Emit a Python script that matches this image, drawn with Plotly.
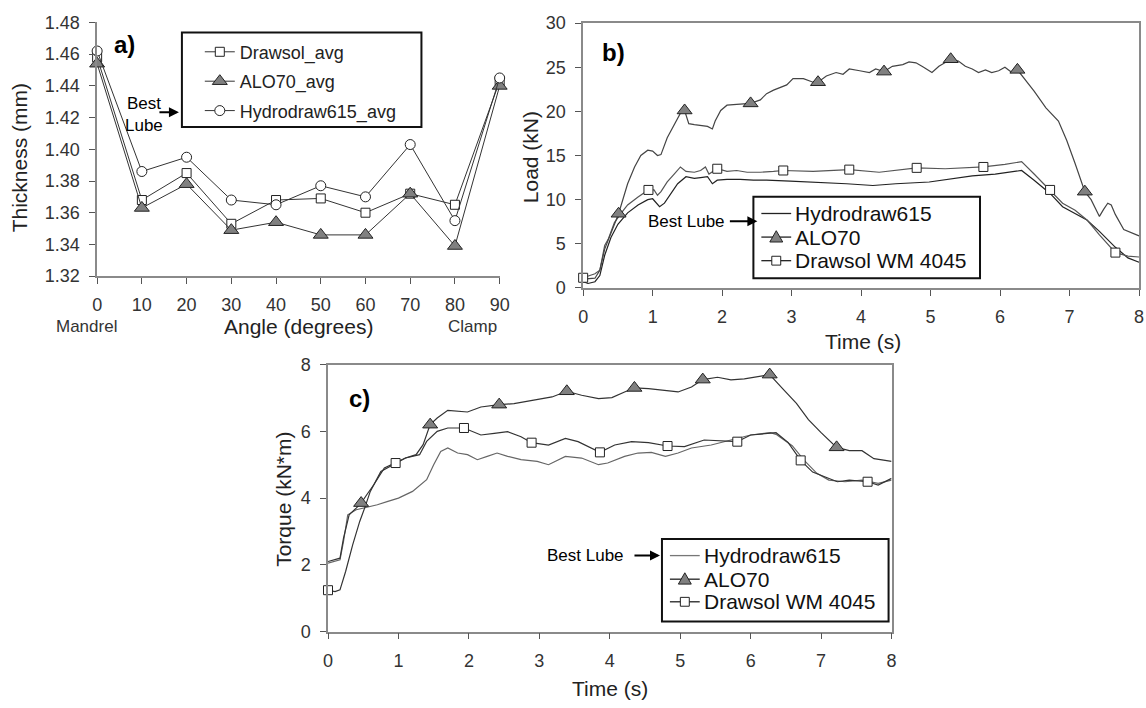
import plotly.graph_objects as go

# ---------------- DATA ----------------
angles = [0, 10, 20, 30, 40, 50, 60, 70, 80, 90]
a_drawsol = [1.458, 1.368, 1.385, 1.353, 1.368, 1.369, 1.360, 1.372, 1.365, 1.443]
a_alo70 = [1.454, 1.363, 1.378, 1.349, 1.354, 1.346, 1.346, 1.372, 1.339, 1.440]
a_hydro = [1.462, 1.386, 1.395, 1.368, 1.365, 1.377, 1.370, 1.403, 1.355, 1.445]
a_xticks = [0, 10, 20, 30, 40, 50, 60, 70, 80, 90]

b_alo_t = [0, 0.17, 0.24, 0.31, 0.51, 0.64, 0.74, 0.83, 0.93, 1.0, 1.07, 1.12, 1.21, 1.31, 1.40, 1.46,
           1.5, 1.52, 1.6, 1.69, 1.79, 1.86, 1.9, 1.98, 2.07, 2.21, 2.36, 2.41, 2.55, 2.64, 2.74, 2.83,
           2.93, 3.02, 3.17, 3.31, 3.38, 3.5, 3.64, 3.74, 3.83, 3.98, 4.12, 4.21, 4.33, 4.45, 4.6, 4.69,
           4.79, 4.9, 5.02, 5.12, 5.21, 5.29, 5.4, 5.5, 5.6, 5.69, 5.79, 5.88, 5.98, 6.07, 6.17, 6.25,
           6.49, 6.66, 6.84, 6.96, 7.08, 7.22, 7.31, 7.43, 7.49, 7.55, 7.6, 7.66, 7.78, 7.9, 8.0]
b_alo_v = [1.0, 1.1, 2.0, 4.4, 8.4, 11.8, 13.7, 15.0, 15.6, 15.5, 15.0, 15.1, 17.0, 18.5, 19.8, 20.1,
           18.9, 18.6, 18.5, 18.4, 18.3, 18.0, 18.9, 20.1, 20.7, 20.8, 20.9, 20.9, 21.3, 22.0, 22.4, 22.7,
           23.0, 23.7, 23.7, 23.3, 23.3, 24.0, 24.4, 24.2, 24.8, 24.6, 24.4, 24.8, 24.5, 25.1, 25.3, 25.6,
           25.5, 25.0, 24.4, 25.1, 25.5, 25.9, 25.7, 25.1, 24.8, 24.4, 24.7, 24.4, 24.6, 25.0, 24.4, 24.7,
           22.3, 20.4, 18.9, 16.7, 14.1, 10.9, 10.0, 8.1, 8.9, 9.6, 9.4, 8.3, 6.6, 6.2, 5.9]
b_alo_mk_t = [0.51, 1.46, 2.41, 3.38, 4.33, 5.29, 6.25, 7.22]
b_alo_mk_v = [8.4, 20.1, 20.9, 23.3, 24.5, 25.9, 24.7, 10.9]

b_draw_t = [0, 0.07, 0.17, 0.24, 0.31, 0.36, 0.45, 0.55, 0.64, 0.79, 0.94, 1.02, 1.07, 1.12, 1.21, 1.31,
            1.4, 1.48, 1.6, 1.69, 1.76, 1.81, 1.93, 2.07, 2.21, 2.36, 2.55, 2.74, 2.88, 3.31, 3.83, 4.26,
            4.5, 4.8, 5.21, 5.76, 6.07, 6.31, 6.49, 6.72, 6.9, 7.08, 7.25, 7.43, 7.66, 7.84, 8.0]
b_draw_v = [1.15, 1.3, 1.6, 2.0, 4.8, 5.5, 7.4, 8.5, 9.4, 10.3, 11.1, 11.1, 10.5, 10.9, 12.0, 12.9,
            13.7, 13.2, 13.1, 13.3, 13.7, 12.9, 13.5, 13.2, 13.3, 13.1, 13.1, 13.2, 13.3, 13.2, 13.4, 13.1,
            13.3, 13.6, 13.5, 13.7, 14.0, 14.3, 12.9, 11.1, 9.6, 8.8, 7.7, 6.0, 4.0, 3.6, 3.5]
b_draw_mk_t = [0, 0.94, 1.93, 2.88, 3.83, 4.8, 5.76, 6.72, 7.66]
b_draw_mk_v = [1.15, 11.1, 13.5, 13.3, 13.4, 13.6, 13.7, 11.1, 4.0]

b_hyd_t = [0, 0.07, 0.17, 0.24, 0.31, 0.4, 0.5, 0.64, 0.79, 0.93, 1.0, 1.1, 1.17, 1.26, 1.36, 1.48,
           1.6, 1.69, 1.79, 1.86, 1.93, 2.07, 2.26, 2.45, 2.64, 2.98, 3.31, 3.79, 4.17, 4.5, 4.98, 5.31,
           5.6, 5.93, 6.31, 6.49, 6.72, 6.9, 7.08, 7.25, 7.43, 7.66, 7.84, 8.0]
b_hyd_v = [0.7, 0.5, 0.7, 1.4, 3.7, 5.7, 7.2, 8.5, 9.4, 10.0, 10.1, 9.2, 9.6, 10.7, 11.8, 12.6,
           12.4, 12.5, 12.6, 11.8, 12.2, 12.3, 12.3, 12.2, 12.2, 12.1, 12.0, 11.8, 11.6, 11.8, 12.0, 12.4,
           12.7, 12.9, 13.3, 12.2, 10.7, 9.2, 8.4, 7.7, 6.4, 4.6, 3.4, 2.9]

c_alo_t = [0, 0.1, 0.17, 0.22, 0.3, 0.4, 0.47, 0.55, 0.65, 0.8, 0.9, 1.1, 1.25, 1.35, 1.45, 1.55,
           1.7, 1.98, 2.17, 2.43, 2.64, 2.9, 3.18, 3.39, 3.6, 3.84, 4.03, 4.21, 4.35, 4.55, 4.79, 4.97,
           5.16, 5.32, 5.53, 5.72, 5.91, 6.15, 6.27, 6.47, 6.65, 6.82, 7.0, 7.22, 7.4, 7.58, 7.75, 8.0]
c_alo_v = [2.1, 2.15, 2.2, 2.8, 3.5, 3.7, 3.85, 4.1, 4.4, 4.9, 5.0, 5.2, 5.3, 5.6, 6.2, 6.4,
           6.63, 6.58, 6.73, 6.8, 6.83, 6.93, 7.03, 7.2, 7.08, 6.98, 7.01, 7.18, 7.3, 7.28, 7.23, 7.18,
           7.33, 7.55, 7.62, 7.54, 7.57, 7.67, 7.7, 7.24, 6.84, 6.35, 5.96, 5.52, 5.42, 5.42, 5.18, 5.1]
c_alo_mk_t = [0.47, 1.45, 2.43, 3.39, 4.35, 5.32, 6.27, 7.22]
c_alo_mk_v = [3.85, 6.2, 6.8, 7.2, 7.3, 7.55, 7.7, 5.52]

c_draw_t = [0, 0.1, 0.17, 0.25, 0.35, 0.45, 0.52, 0.6, 0.75, 0.96, 1.1, 1.3, 1.4, 1.55, 1.7, 1.93,
            2.17, 2.36, 2.55, 2.74, 2.89, 3.13, 3.37, 3.55, 3.74, 3.86, 4.07, 4.31, 4.55, 4.82, 5.06, 5.34,
            5.81, 6.0, 6.36, 6.53, 6.71, 6.88, 7.05, 7.23, 7.4, 7.66, 7.81, 8.0]
c_draw_v = [1.24, 1.2, 1.25, 1.8, 2.6, 3.3, 3.7, 4.2, 4.8, 5.05, 5.2, 5.3, 5.7, 6.0, 6.1, 6.1,
            5.89, 5.94, 5.99, 5.84, 5.66, 5.59, 5.79, 5.69, 5.5, 5.37, 5.59, 5.69, 5.66, 5.56, 5.54, 5.74,
            5.69, 5.89, 5.96, 5.67, 5.13, 4.78, 4.64, 4.49, 4.54, 4.49, 4.39, 4.59]
c_draw_mk_t = [0, 0.96, 1.93, 2.89, 3.86, 4.82, 5.81, 6.71, 7.66]
c_draw_mk_v = [1.24, 5.05, 6.1, 5.66, 5.37, 5.56, 5.69, 5.13, 4.49]

c_hyd_t = [0, 0.1, 0.17, 0.22, 0.28, 0.4, 0.5, 0.7, 0.85, 1.0, 1.2, 1.4, 1.5, 1.6, 1.7, 1.84,
           1.98, 2.12, 2.26, 2.4, 2.55, 2.74, 2.97, 3.13, 3.37, 3.6, 3.84, 3.97, 4.21, 4.4, 4.59, 4.79,
           4.97, 5.16, 5.44, 5.72, 6.0, 6.28, 6.36, 6.59, 6.76, 6.94, 7.11, 7.34, 7.58, 7.81, 8.0]
c_hyd_v = [2.05, 2.1, 2.15, 2.7, 3.5, 3.65, 3.7, 3.8, 3.9, 4.0, 4.2, 4.55, 5.0, 5.4, 5.5, 5.35,
           5.3, 5.15, 5.25, 5.35, 5.25, 5.15, 5.1, 5.0, 5.25, 5.2, 5.0, 5.05, 5.25, 5.35, 5.37, 5.25,
           5.35, 5.5, 5.59, 5.74, 5.89, 5.96, 5.91, 5.57, 5.13, 4.74, 4.54, 4.49, 4.54, 4.44, 4.54]

time_ticks = [0, 1, 2, 3, 4, 5, 6, 7, 8]
load_ticks = [0, 5, 10, 15, 20, 25, 30]
torque_ticks = [0, 2, 4, 6, 8]
thick_ticks = [1.32, 1.34, 1.36, 1.38, 1.40, 1.42, 1.44, 1.46, 1.48]

legend_bc_names = ["Hydrodraw615", "ALO70", "Drawsol WM 4045"]

# ---------------- STYLE / LAYOUT ----------------
W, H = 1146, 708          # reference pixel frame used for positioning
FIG_W, FIG_H = 1154, 716  # figure size
FONT = "Liberation Sans, Arial, sans-serif"


def px(x):
    return x / W


def py(y):
    return 1 - y / H


SQ = dict(symbol="square", size=9, color="white", line=dict(color="#222", width=1))
TRI = dict(symbol="triangle-up", size=13, color="#808080", line=dict(color="#222", width=1))
CIRC = dict(symbol="circle", size=10, color="white", line=dict(color="#222", width=1))

fig = go.Figure()

for name, vals, mk, grp in [("Drawsol_avg", a_drawsol, SQ, "g1"),
                            ("ALO70_avg", a_alo70, TRI, "g2"),
                            ("Hydrodraw615_avg", a_hydro, CIRC, "g3")]:
    fig.add_trace(go.Scatter(x=angles, y=vals, mode="lines+markers", name=name,
                             line=dict(color="#333", width=1), marker=mk,
                             legend="legend", legendgroup=grp, cliponaxis=False,
                             xaxis="x", yaxis="y"))

fig.add_trace(go.Scatter(x=b_hyd_t, y=b_hyd_v, mode="lines", line=dict(color="#222", width=1.2),
                         showlegend=False, xaxis="x2", yaxis="y2"))
fig.add_trace(go.Scatter(x=b_draw_t, y=b_draw_v, mode="lines", line=dict(color="#555", width=1.2),
                         showlegend=False, xaxis="x2", yaxis="y2"))
fig.add_trace(go.Scatter(x=b_alo_t, y=b_alo_v, mode="lines", line=dict(color="#444", width=1.2),
                         showlegend=False, xaxis="x2", yaxis="y2"))
fig.add_trace(go.Scatter(x=b_draw_mk_t, y=b_draw_mk_v, mode="markers", marker=SQ,
                         showlegend=False, cliponaxis=False, xaxis="x2", yaxis="y2"))
fig.add_trace(go.Scatter(x=b_alo_mk_t, y=b_alo_mk_v, mode="markers", marker=TRI,
                         showlegend=False, cliponaxis=False, xaxis="x2", yaxis="y2"))

fig.add_trace(go.Scatter(x=c_hyd_t, y=c_hyd_v, mode="lines", line=dict(color="#666", width=1.2),
                         showlegend=False, xaxis="x3", yaxis="y3"))
fig.add_trace(go.Scatter(x=c_draw_t, y=c_draw_v, mode="lines", line=dict(color="#333", width=1.2),
                         showlegend=False, xaxis="x3", yaxis="y3"))
fig.add_trace(go.Scatter(x=c_alo_t, y=c_alo_v, mode="lines", line=dict(color="#333", width=1.2),
                         showlegend=False, xaxis="x3", yaxis="y3"))
fig.add_trace(go.Scatter(x=c_draw_mk_t, y=c_draw_mk_v, mode="markers", marker=SQ,
                         showlegend=False, cliponaxis=False, xaxis="x3", yaxis="y3"))
fig.add_trace(go.Scatter(x=c_alo_mk_t, y=c_alo_mk_v, mode="markers", marker=TRI,
                         showlegend=False, cliponaxis=False, xaxis="x3", yaxis="y3"))

AX = dict(showline=True, linecolor="#8a8a8a", linewidth=1.5, ticks="outside", ticklen=6,
          tickcolor="#555", tickwidth=1.2, showgrid=False, zeroline=False,
          tickfont=dict(size=18, family=FONT, color="#333"), ticklabelstandoff=6)

fig.update_layout(
    width=FIG_W, height=FIG_H, margin=dict(l=0, r=0, t=0, b=0),
    paper_bgcolor="white", plot_bgcolor="white",
    font=dict(family=FONT, color="#222"),
    xaxis=dict(AX, domain=[px(92.7), px(497.7)], range=[0, 90], tickvals=a_xticks, anchor="y"),
    yaxis=dict(AX, domain=[py(270.7), py(12.7)], range=[1.32, 1.48], tickvals=thick_ticks,
               tickformat=".2f", anchor="x"),
    xaxis2=dict(AX, domain=[px(581.7), px(1141)], range=[0, 8], tickvals=time_ticks,
                anchor="y2", mirror=True),
    yaxis2=dict(AX, domain=[py(282.7), py(13.3)], range=[0, 30], tickvals=load_ticks,
                anchor="x2", mirror=True),
    xaxis3=dict(AX, domain=[px(325), px(892)], range=[0, 8], tickvals=time_ticks,
                anchor="y3", mirror=True),
    yaxis3=dict(AX, domain=[py(632.3), py(360.7)], range=[0, 8], tickvals=torque_ticks,
                anchor="x3", mirror=True),
    legend=dict(x=px(196), y=py(24), xanchor="left", yanchor="top", bgcolor="rgba(0,0,0,0)",
                borderwidth=0, font=dict(size=18, family=FONT, color="#222"),
                traceorder="grouped", tracegroupgap=3),
)

for (x0, y0, x1, y1) in [(178, 23, 419, 119), (753, 190, 981, 273), (661, 538, 889, 622)]:
    fig.add_shape(type="rect", xref="paper", yref="paper", x0=px(x0), x1=px(x1), y0=py(y1), y1=py(y0),
                  line=dict(color="#111", width=2), fillcolor="white", layer="above")


def txt(x, y, s, size=20, bold=False, angle=0, color="#222", xanchor="center"):
    fig.add_annotation(x=px(x), y=py(y), xref="paper", yref="paper", text=(f"<b>{s}</b>" if bold else s),
                       showarrow=False, xanchor=xanchor, yanchor="middle", textangle=angle,
                       font=dict(size=size, family=FONT, color=color))


def arrow(x_tail, x_tip, y):
    fig.add_annotation(x=px(x_tip), y=py(y), xref="paper", yref="paper", text="",
                       showarrow=True, ax=-(x_tip - x_tail), ay=0, arrowhead=2, arrowsize=1,
                       arrowwidth=2, arrowcolor="#000")


def legend_glyph(kind, cx, cy, line_color, x0, x1):
    fig.add_shape(type="line", xref="paper", yref="paper", x0=px(x0), x1=px(x1), y0=py(cy), y1=py(cy),
                  line=dict(color=line_color, width=1.3), layer="above")
    if kind == "tri":
        path = (f"M {px(cx - 6.5)},{py(cy + 5)} L {px(cx + 6.5)},{py(cy + 5)} "
                f"L {px(cx)},{py(cy - 6.5)} Z")
        fig.add_shape(type="path", xref="paper", yref="paper", path=path,
                      fillcolor="#808080", line=dict(color="#222", width=1), layer="above")
    elif kind == "sq":
        fig.add_shape(type="rect", xref="paper", yref="paper", x0=px(cx - 4.5), x1=px(cx + 4.5),
                      y0=py(cy + 4.5), y1=py(cy - 4.5), fillcolor="white",
                      line=dict(color="#222", width=1), layer="above")


for (bx, rows, hyd_col) in [(753, [207, 231, 255], "#222"), (661, [555, 579, 602], "#777")]:
    kinds = ["line", "tri", "sq"]
    for name, row, kind in zip(legend_bc_names, rows, kinds):
        legend_glyph(kind, bx + 23, row, hyd_col if kind == "line" else "#222", bx + 8, bx + 38)
        txt(bx + 40, row, name, size=21, color="#111", xanchor="left")

txt(120, 35, "a)", size=24, bold=True, color="#000")
txt(612, 43, "b)", size=24, bold=True, color="#000")
txt(357, 395, "c)", size=24, bold=True, color="#000")

txt(15, 150, "Thickness (mm)", size=21, angle=-90)
txt(295, 322, "Angle (degrees)", size=21)
txt(82, 322, "Mandrel", size=17, color="#333")
txt(470, 322, "Clamp", size=17, color="#333")
txt(529, 150, "Load (kN)", size=21, angle=-90)
txt(863, 337, "Time (s)", size=21)
txt(280, 498, "Torque (kN*m)", size=21, angle=-90)
txt(609, 690, "Time (s)", size=21)

txt(140, 95, "Best", size=17, color="#000")
txt(140, 117, "Lube", size=17, color="#000")
arrow(154, 175, 104)
txt(686, 215, "Best Lube", size=17, color="#000")
arrow(728, 757, 215)
txt(584, 555, "Best Lube", size=17, color="#000")
arrow(632, 659, 555)

fig.write_html("out.html", config={"displayModeBar": False},
               post_script="document.body.style.margin='0px';document.body.style.overflow='hidden';")
